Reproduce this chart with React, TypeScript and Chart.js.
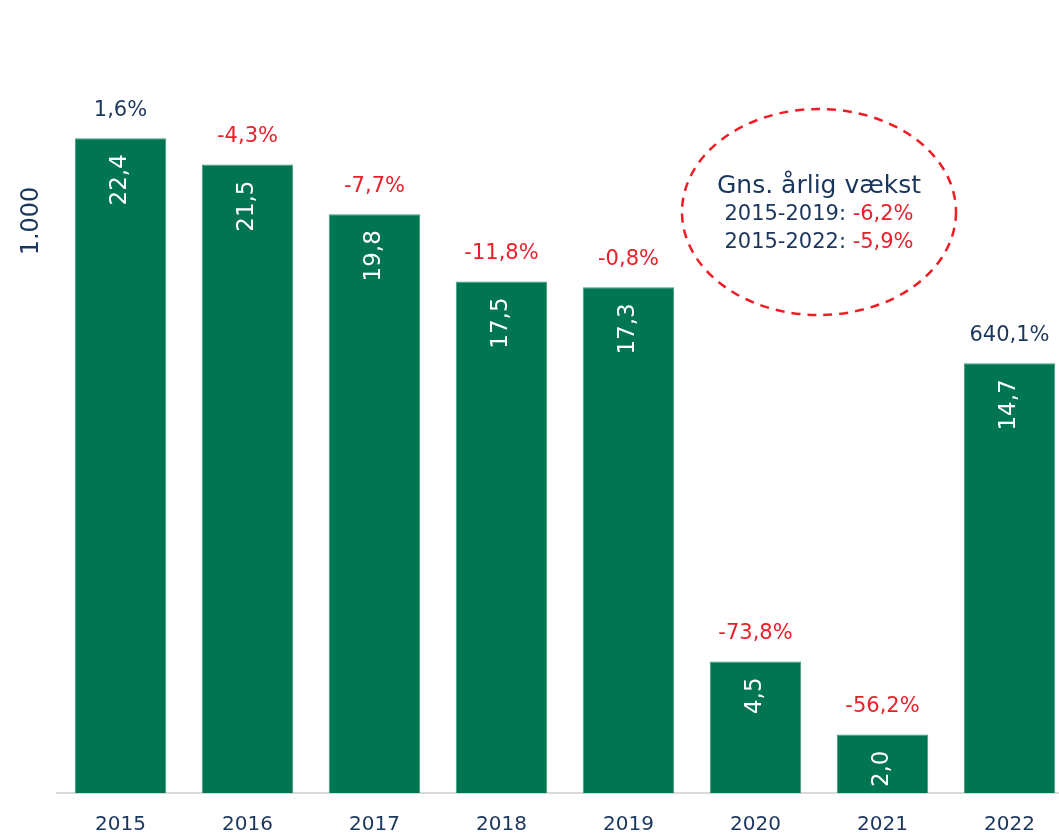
import React, { useEffect, useRef } from "react";
import { Chart, registerables } from "chart.js";

Chart.register(...registerables);

const years = ["2015", "2016", "2017", "2018", "2019", "2020", "2021", "2022"];
const values = [22.4, 21.5, 19.8, 17.5, 17.3, 4.5, 2.0, 14.7];
const growth = ["1,6%", "-4,3%", "-7,7%", "-11,8%", "-0,8%", "-73,8%", "-56,2%", "640,1%"];
const growthPositive = [true, false, false, false, false, false, false, true];
const unitLabel = "1.000";
const noteTitle = "Gns. årlig vækst";
const notePeriods = ["2015-2019: ", "2015-2022: "];
const noteValues = ["-6,2%", "-5,9%"];

const GREEN = "#007552";
const NAVY = "#1B365D";
const RED = "#E8202A";
const FONT = "'DejaVu Sans', sans-serif";

const fmt = (v: number) => v.toFixed(1).replace(".", ",");

const labelPlugin = {
  id: "labels",
  afterDatasetsDraw(chart: any) {
    const ctx = chart.ctx;
    const meta = chart.getDatasetMeta(0);
    ctx.save();
    meta.data.forEach((bar: any, i: number) => {
      const x = bar.x;
      const top = bar.y;
      ctx.save();
      ctx.translate(x, top + 16);
      ctx.rotate(-Math.PI / 2);
      ctx.fillStyle = "#ffffff";
      ctx.font = `23px ${FONT}`;
      ctx.textAlign = "right";
      ctx.textBaseline = "middle";
      ctx.fillText(fmt(values[i]), 0, 0);
      ctx.restore();
      ctx.fillStyle = growthPositive[i] ? NAVY : RED;
      ctx.font = `21px ${FONT}`;
      ctx.textAlign = "center";
      ctx.textBaseline = "middle";
      ctx.fillText(growth[i], x, top - 28);
    });

    ctx.save();
    ctx.translate(chart.chartArea.left - 25, 221);
    ctx.rotate(-Math.PI / 2);
    ctx.fillStyle = NAVY;
    ctx.font = `24px ${FONT}`;
    ctx.textAlign = "center";
    ctx.textBaseline = "middle";
    ctx.fillText(unitLabel, 0, 0);
    ctx.restore();

    const cx = 819;
    const cy = 212;
    ctx.beginPath();
    ctx.ellipse(cx, cy, 137, 103, 0, 0, Math.PI * 2);
    ctx.strokeStyle = "#EE1C25";
    ctx.lineWidth = 2.5;
    ctx.setLineDash([9, 7]);
    ctx.stroke();
    ctx.setLineDash([]);

    ctx.fillStyle = NAVY;
    ctx.font = `25px ${FONT}`;
    ctx.textAlign = "center";
    ctx.textBaseline = "middle";
    ctx.fillText(noteTitle, cx, 186);

    ctx.font = `21px ${FONT}`;
    notePeriods.forEach((p, i) => {
      const y = 215 + i * 28;
      const w1 = ctx.measureText(p).width;
      const w2 = ctx.measureText(noteValues[i]).width;
      const start = cx - (w1 + w2) / 2;
      ctx.textAlign = "left";
      ctx.fillStyle = NAVY;
      ctx.fillText(p, start, y);
      ctx.fillStyle = RED;
      ctx.fillText(noteValues[i], start + w1, y);
    });
    ctx.restore();
  },
};

export default function App() {
  const ref = useRef<HTMLCanvasElement | null>(null);
  useEffect(() => {
    if (!ref.current) return;
    const chart = new Chart(ref.current, {
      type: "bar",
      data: {
        labels: years,
        datasets: [
          {
            data: values,
            backgroundColor: GREEN,
            borderColor: "#3f9a7a",
            borderWidth: 1,
          },
        ],
      },
      options: {
        responsive: false,
        animation: false,
        devicePixelRatio: 1,
        layout: { padding: { left: 57, right: 2, top: 33, bottom: 0 } },
        plugins: {
          legend: { display: false },
          tooltip: { enabled: false },
        },
        scales: {
          x: {
            grid: { display: false, drawTicks: false },
            border: { display: true, color: "#d9d9d9", width: 2 },
            ticks: {
              color: NAVY,
              font: { family: FONT, size: 20 },
              padding: 20,
            },
            afterFit: (s: any) => {
              s.height = 45;
            },
          },
          y: {
            display: false,
            min: 0,
            max: 26,
          },
        },
      },
      plugins: [labelPlugin],
    });
    return () => chart.destroy();
  }, []);
  return (
    <div
      style={{
        position: "fixed",
        left: 0,
        top: 0,
        width: 1059,
        height: 838,
        overflow: "hidden",
        background: "#ffffff",
      }}
    >
      <canvas ref={ref} width={1075} height={838} style={{ width: 1075, height: 838 }} />
    </div>
  );
}
